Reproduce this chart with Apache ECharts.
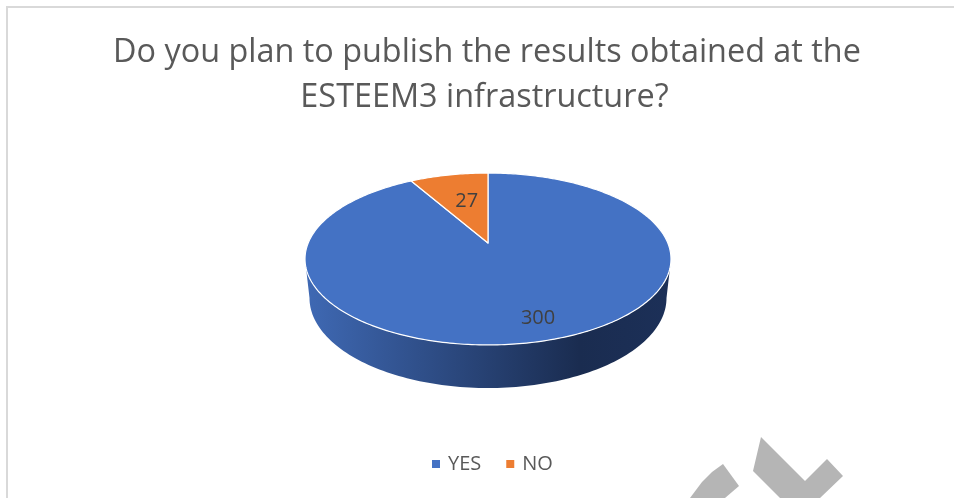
<!DOCTYPE html>
<html><head><meta charset="utf-8">
<style>html,body{margin:0;padding:0;background:#fff}#c{width:954px;height:498px}</style>
<script src="https://cdn.jsdelivr.net/npm/echarts@6/dist/echarts.min.js"></script>
</head><body><div id="c"></div>
<script>
var categories = ['YES', 'NO'];
var values = [300, 27];
var colors = ['#4472C4', '#ED7D31'];
var titleLines = ['Do you plan to publish the results obtained at the', 'ESTEEM3 infrastructure?'];

// projected disc: apex of the slices and perspective of the tilted plane
var apex = [488, 243], A = 179.8, B = 83, K = 0.186;
var total = values.reduce(function (s, v) { return s + v; }, 0);
var labelR = [0.80, 0.58], labelDx = [7, 3];

function proj(r, t) {
  var X = r * Math.sin(t), Y = -r * Math.cos(t), d = 1 - K * Y;
  return [apex[0] + A * X / d, apex[1] + B * Y / d];
}
function startOf(i) {
  var s = 0;
  for (var j = 0; j < i; j++) s += values[j];
  return s / total * Math.PI * 2;
}
function slice(i) {
  var a0 = startOf(i), a1 = a0 + values[i] / total * Math.PI * 2, pts = [apex.slice()];
  var n = Math.max(8, Math.round((a1 - a0) * 60));
  for (var k = 0; k <= n; k++) pts.push(proj(1, a0 + (a1 - a0) * k / n));
  return pts;
}
function wall() {
  var pts = [], n = 120, k, t;
  for (k = 0; k <= n; k++) { t = Math.PI * k / n; pts.push([488 + 183 * Math.cos(t), 259 + 86 * Math.sin(t)]); }
  for (k = n; k >= 0; k--) { t = Math.PI * k / n; pts.push([488 + 178.5 * Math.cos(t), 298 + 90 * Math.sin(t)]); }
  return pts;
}
function makeSeries(i) {
  return {
    type: 'custom', name: categories[i], coordinateSystem: 'none',
    itemStyle: { color: colors[i] }, silent: true, z: 3 + i,
    data: [values[i]],
    renderItem: function () {
      var mid = startOf(i) + values[i] / total * Math.PI;
      var p = proj(labelR[i], mid), kids = [];
      if (i === 0) kids.push({
        type: 'polygon', shape: { points: wall() }, z2: 1,
        style: { fill: new echarts.graphic.LinearGradient(0, 0, 1, 0, [
          { offset: 0, color: '#3F69B4' }, { offset: 0.75, color: '#1A2C50' }, { offset: 1, color: '#1C3058' }
        ]) }
      });
      kids.push({ type: 'polygon', shape: { points: slice(i) }, z2: 2,
        style: { fill: colors[i], stroke: '#fff', lineWidth: 1.2, lineJoin: 'round' } });
      kids.push({ type: 'text', z2: 5, style: { text: String(values[i]), x: p[0] + labelDx[i], y: p[1],
        fill: '#404040', font: '20px "Open Sans"', textAlign: 'center', textVerticalAlign: 'middle' } });
      return { type: 'group', children: kids };
    }
  };
}
var titleStyle = { color: '#595959', fontFamily: 'Open Sans', fontSize: 32.4, fontWeight: 'normal', lineHeight: 45 };
var option = {
  backgroundColor: '#fff', animation: false,
  title: [
    { text: titleLines[0], left: 487, top: 30, padding: 0, textAlign: 'center', textStyle: titleStyle },
    { text: titleLines[1], left: 484.5, top: 75, padding: 0, textAlign: 'center', textStyle: titleStyle }
  ],
  legend: { data: categories, left: 432, top: 454, padding: 0, icon: 'rect', itemWidth: 8, itemHeight: 8, itemGap: 25, itemStyle: { borderWidth: 0 },
    textStyle: { color: '#595959', fontFamily: 'Open Sans', fontSize: 20, padding: [0, 0, 0, 3] } },
  graphic: [
    { type: 'polyline', z: 1, shape: { points: [[7, 498], [7, 7], [954, 7]] }, style: { stroke: '#D9D9D9', lineWidth: 2, fill: null } },
    { type: 'polygon', z: 10, shape: { points: [[723, 464], [739, 486], [725, 498], [690, 498], [702, 482], [712, 472]] }, style: { fill: '#B5B5B5' } },
    { type: 'polygon', z: 10, shape: { points: [[761, 437], [753, 471], [780, 498], [820, 498], [843, 476], [827, 459], [805, 481]] }, style: { fill: '#B5B5B5' } }
  ],
  series: categories.map(function (c, i) { return makeSeries(i); })
};
echarts.init(document.getElementById('c'), null, { renderer: 'canvas' }).setOption(option);
</script></body></html>
